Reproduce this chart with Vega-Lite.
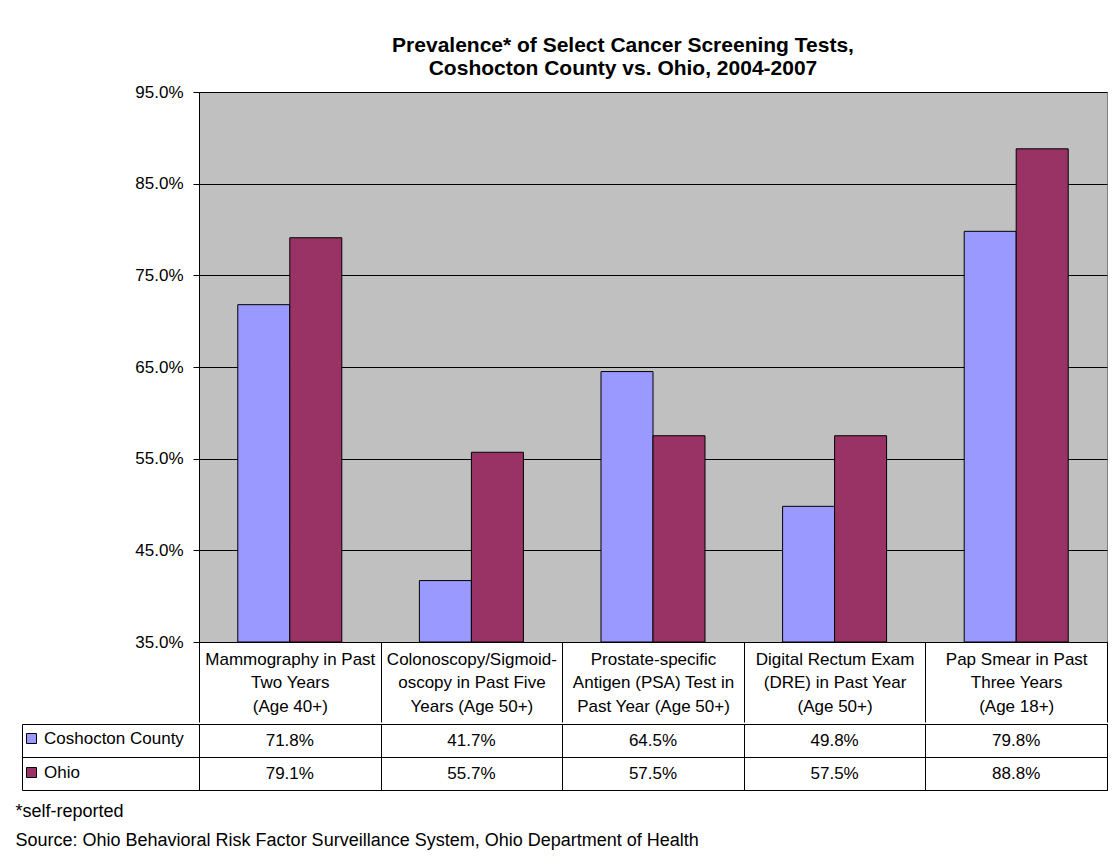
{
  "$schema": "https://vega.github.io/schema/vega-lite/v6.json",
  "padding": {"left": 15, "right": 5, "top": 34, "bottom": 5},
  "autosize": {"type": "pad"},
  "background": "white",
  "spacing": 0,
  "config": {
    "font": "Liberation Sans",
    "view": {"stroke": "black"},
    "axis": {"labelColor": "black", "labelFont": "Liberation Sans"}
  },
  "data": {
    "values": [
      {"test": "Mammography in Past|Two Years|(Age 40+)", "series": "Coshocton County", "value": 0.718},
      {"test": "Mammography in Past|Two Years|(Age 40+)", "series": "Ohio", "value": 0.791},
      {"test": "Colonoscopy/Sigmoid-|oscopy in Past Five|Years (Age 50+)", "series": "Coshocton County", "value": 0.417},
      {"test": "Colonoscopy/Sigmoid-|oscopy in Past Five|Years (Age 50+)", "series": "Ohio", "value": 0.557},
      {"test": "Prostate-specific|Antigen (PSA) Test in|Past Year (Age 50+)", "series": "Coshocton County", "value": 0.645},
      {"test": "Prostate-specific|Antigen (PSA) Test in|Past Year (Age 50+)", "series": "Ohio", "value": 0.575},
      {"test": "Digital Rectum Exam|(DRE) in Past Year|(Age 50+)", "series": "Coshocton County", "value": 0.498},
      {"test": "Digital Rectum Exam|(DRE) in Past Year|(Age 50+)", "series": "Ohio", "value": 0.575},
      {"test": "Pap Smear in Past|Three Years|(Age 18+)", "series": "Coshocton County", "value": 0.798},
      {"test": "Pap Smear in Past|Three Years|(Age 18+)", "series": "Ohio", "value": 0.888}
    ]
  },
  "vconcat": [
    {
      "width": 908,
      "height": 550,
      "title": {
        "text": ["Prevalence* of Select Cancer Screening Tests,", "Coshocton County vs. Ohio, 2004-2007"],
        "fontSize": 21,
        "fontWeight": "bold",
        "color": "black",
        "lineHeight": 23,
        "anchor": "middle",
        "dx": -30,
        "offset": 4
      },
      "view": {"fill": "#C0C0C0", "stroke": "#808080"},
      "mark": {"type": "bar", "stroke": "black", "strokeWidth": 1},
      "encoding": {
        "x": {
          "field": "test", "type": "nominal", "sort": null,
          "scale": {"paddingInner": 0, "paddingOuter": 0},
          "axis": {
            "title": null, "labelAngle": 0,
            "labelExpr": "split(datum.label, '|')",
            "labelFontSize": 17, "labelLineHeight": 23.5,
            "labelBaseline": "top", "labelPadding": -71,
            "labelOverlap": false, "labelLimit": 300,
            "tickBand": "extent", "tickExtra": true, "tickSize": 80,
            "tickColor": "black", "domainColor": "black"
          }
        },
        "xOffset": {
          "field": "series", "type": "nominal",
          "sort": ["Coshocton County", "Ohio"],
          "scale": {"paddingInner": 0, "paddingOuter": 0.746}
        },
        "y": {
          "field": "value", "type": "quantitative",
          "scale": {"domain": [0.35, 0.95], "zero": false, "nice": false},
          "axis": {
            "title": null, "values": [0.35, 0.45, 0.55, 0.65, 0.75, 0.85, 0.95],
            "format": ".1%", "labelFontSize": 17, "labelPadding": 10,
            "tickSize": 6, "tickColor": "black", "domainColor": "black",
            "grid": true, "gridColor": "black", "gridOpacity": 1
          }
        },
        "y2": {"datum": 0.35},
        "color": {
          "field": "series", "type": "nominal",
          "scale": {"domain": ["Coshocton County", "Ohio"], "range": ["#9999FF", "#993366"]},
          "legend": {
            "orient": "none", "legendX": -176, "legendY": 638,
            "title": null, "symbolType": "square", "symbolSize": 100,
            "symbolStrokeColor": "black", "symbolStrokeWidth": 1,
            "labelFontSize": 17, "labelColor": "black", "labelOffset": 4,
            "rowPadding": 16, "padding": 0
          }
        }
      }
    },
    {
      "width": 908,
      "height": 66,
      "view": {"stroke": "black", "fill": null},
      "title": {
        "text": ["*self-reported", "Source: Ohio Behavioral Risk Factor Surveillance System, Ohio Department of Health"],
        "orient": "bottom", "anchor": "start", "frame": "bounds",
        "fontSize": 18, "fontWeight": "normal", "color": "black",
        "lineHeight": 29, "offset": 12, "dx": -6
      },
      "mark": {"type": "text", "fontSize": 17, "color": "black"},
      "encoding": {
        "x": {
          "field": "test", "type": "nominal", "sort": null,
          "scale": {"paddingInner": 0, "paddingOuter": 0},
          "axis": {
            "title": null, "labels": false, "ticks": false, "domain": false,
            "grid": true, "gridColor": "black", "gridOpacity": 1,
            "tickBand": "extent", "tickExtra": true
          }
        },
        "y": {
          "field": "series", "type": "nominal",
          "sort": ["Coshocton County", "Ohio"],
          "scale": {"paddingInner": 0, "paddingOuter": 0},
          "axis": {
            "title": null, "labels": false, "offset": 177,
            "domain": true, "domainColor": "black",
            "ticks": true, "tickSize": -1085, "tickColor": "black",
            "tickBand": "extent", "tickExtra": true, "grid": false
          }
        },
        "text": {"field": "value", "type": "quantitative", "format": ".1%"}
      }
    }
  ]
}
